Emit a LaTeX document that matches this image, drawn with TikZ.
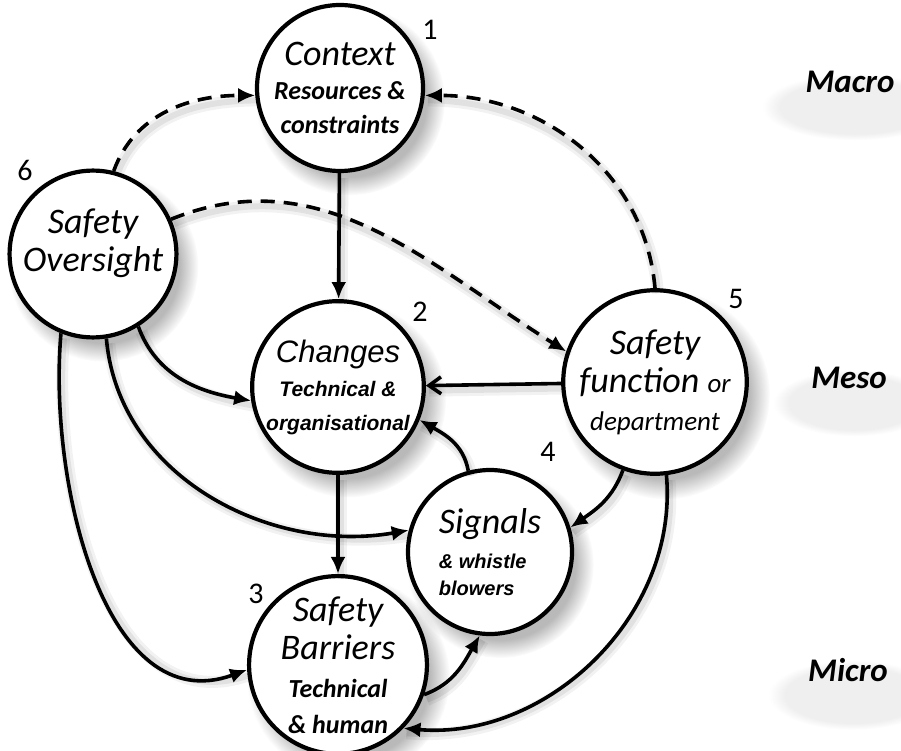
\documentclass[tikz,border=0pt]{standalone}
\usepackage{fontspec}
\setmainfont{Carlito}
\newfontfamily\arialfont{Liberation Sans}
\usetikzlibrary{arrows.meta,shadows,fadings,shapes.geometric}
\newcommand\bigit{\fontsize{36}{38}\selectfont\itshape}
\newcommand\subit{\fontsize{26}{30}\selectfont\bfseries\itshape}
\newcommand\arialbig{\arialfont\fontsize{31}{33}\selectfont\itshape}
\newcommand\arialsub{\arialfont\fontsize{21}{25}\selectfont\bfseries\itshape}
\tikzstyle{topic node}  = [circle,draw,line width=4.2pt,fill=white,minimum size=166pt,inner sep=0pt,align=center,
    font=\fontsize{26}{38}\selectfont,
    circular drop shadow={shadow xshift=9pt,shadow yshift=-11pt,shadow scale=1.14,opacity=.55,path fading=circle with fuzzy edge 20 percent}]
\tikzstyle{number label} = [font=\fontsize{30}{32}\selectfont]
\tikzstyle{scale label}  = [ellipse,inner sep=8pt,font=\fontsize{33}{36}\selectfont\bfseries\itshape,
    circular drop shadow={shadow xshift=4pt,shadow yshift=-20pt,shadow scale=1.25,opacity=.13,path fading=circle with fuzzy edge 20 percent}]
\tikzstyle{link}        = [line width=3.6pt,-{Latex[length=17pt,width=15pt]},
    preaction={draw=black,-,line width=12pt,opacity=.05,transform canvas={shift={(3pt,-5pt)}}},
    preaction={draw=black,-,line width=6pt,opacity=.07,transform canvas={shift={(3pt,-5pt)}}}]
\tikzstyle{dashed link} = [link,dash pattern=on 14pt off 9pt]

\begin{document}
\begin{tikzpicture}[x=1pt,y=-1pt]
    \useasboundingbox (0,0) rectangle (901,751);

    % Topics (1 to 6)
    \node(ctx)[topic node] at (340,88) {{\bigit Context}\\[-4pt]{\subit Resources \&}\\[-4pt]{\subit constraints}};
    \node(over)[topic node, minimum size=160pt] at (93,254) {{\bigit Safety}\\{\bigit Oversight}\\[-10pt]};
    \node(sf)[topic node, minimum size=164pt] at (655,382) {{\bigit Safety}\\{\bigit function {\fontsize{27}{28}\selectfont or}}\\{\fontsize{27}{30}\selectfont\itshape department}};
    \node(chg)[topic node] at (338,387) {{\arialbig Changes}\\[-4pt]{\arialsub Technical \&}\\[-4pt]{\arialsub organisational}};
    \node(sig)[topic node, align=left, minimum size=164pt] at (490,552) {{\bigit Signals}\\[-3pt]{\arialfont\fontsize{20}{24}\selectfont\bfseries\itshape \& whistle}\\[-11pt]{\arialfont\fontsize{20}{24}\selectfont\bfseries\itshape blowers}};
    \node(bar)[topic node, minimum size=168pt] at (338,665) {{\bigit Safety}\\{\bigit Barriers}\\{\subit Technical}\\[-2pt]{\subit \& human}};

    % Numbers
    \node(n1)[number label] at (430,30) {1};
    \node(n2)[number label] at (420,312) {2};
    \node(n3)[number label] at (256,594) {3};
    \node(n4)[number label] at (548,452) {4};
    \node(n5)[number label] at (736,299) {5};
    \node(n6)[number label] at (25,170) {6};

    % Levels
    \node(macro)[scale label] at (850,82) {Macro};
    \node(meso)[scale label] at (849,378) {Meso};
    \node(micro)[scale label] at (848,670) {Micro};

    % Dashed links
    \draw[dashed link] (over.76) to[out=70,in=180] (ctx.185);
    \draw[dashed link] (sf.90) to[out=95,in=0] (ctx.-5);
    \draw[dashed link] (over.24) to[out=22,in=148] (sf.161);

    % Straight links
    \draw[link] (ctx) -- (chg);
    \draw[link] (chg) -- (bar);
    \draw[link,-{Straight Barb[length=12pt,width=17pt]}] (sf) -- (chg);

    % Curved links
    \draw[link] (sig.105) to[out=100,in=-30] (chg.-22);
    \draw[link] (over.-58) to[out=-70,in=170] (chg.189);
    \draw[link] (over.-81) to[out=-85,in=190] (sig.165);
    \draw[link] (over.-112) to[out=-95,in=200] (bar.183);
    \draw[link] (sf.-110) to[out=-110,in=35] (sig.17);
    \draw[link] (sf.-83) to[out=-85,in=-5] (bar.-44);
    \draw[link] (bar.-19) to[out=20,in=-120] (sig.-97);
\end{tikzpicture}
\end{document}
